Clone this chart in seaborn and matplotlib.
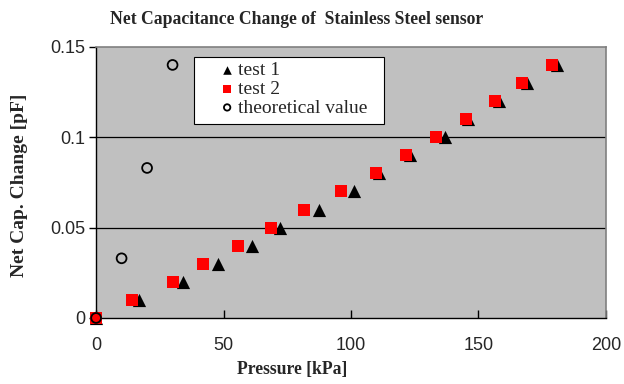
import matplotlib
matplotlib.use("Agg")
import matplotlib.pyplot as plt
from matplotlib.patches import Rectangle
from matplotlib.ticker import FixedLocator, FuncFormatter
import pandas as pd
import seaborn as sns

## Data
test1_kpa = [0, 17, 34, 48, 61, 72, 87.5, 101, 111, 123, 137, 146, 158, 169, 181]
test1_pf = [0, 0.01, 0.02, 0.03, 0.04, 0.05, 0.06, 0.07, 0.08, 0.09, 0.10, 0.11, 0.12, 0.13, 0.14]
test2_kpa = [0, 14, 30, 42, 55.5, 68.5, 81.5, 96, 110, 121.5, 133.5, 145, 156.5, 167, 179]
test2_pf = [0, 0.01, 0.02, 0.03, 0.04, 0.05, 0.06, 0.07, 0.08, 0.09, 0.10, 0.11, 0.12, 0.13, 0.14]
theory_kpa = [0, 10, 20, 30]
theory_pf = [0, 0.033, 0.083, 0.14]

yticks = [0, 0.05, 0.1, 0.15]
xticks = [0, 50, 100, 150, 200]

df1 = pd.DataFrame({"p": test1_kpa, "c": test1_pf})
df2 = pd.DataFrame({"p": test2_kpa, "c": test2_pf})
df3 = pd.DataFrame({"p": theory_kpa, "c": theory_pf})

sns.set_style("white")
plt.rcParams["font.family"] = ["Liberation Sans", "DejaVu Sans"]
serif = ["Liberation Serif", "DejaVu Serif"]

fig = plt.figure(figsize=(6.24, 3.84), dpi=100)
ax = fig.add_axes([0.154, 0.172, 0.817, 0.706])
ax.set_facecolor("#c0c0c0")

sns.scatterplot(data=df1, x="p", y="c", marker="^", s=90, color="black",
                edgecolor="black", linewidth=0, ax=ax, label="test 1", clip_on=False, zorder=3)
sns.scatterplot(data=df2, x="p", y="c", marker="s", s=75, color="#ff0000",
                edgecolor="#ff0000", linewidth=0, ax=ax, label="test 2", clip_on=False, zorder=4)
sns.scatterplot(data=df3, x="p", y="c", marker="o", s=50, facecolor="none",
                edgecolor="black", linewidth=1.3, ax=ax, label="theoretical value", clip_on=False, zorder=5)

ax.set_xlim(0, 200)
ax.set_ylim(0, 0.15)
ax.xaxis.set_major_locator(FixedLocator(xticks))
ax.yaxis.set_major_locator(FixedLocator(yticks))
ax.yaxis.set_major_formatter(FuncFormatter(lambda v, _: "0" if v == 0 else f"{v:g}"))

for y in yticks[1:3]:
    ax.axhline(y, color="black", linewidth=0.9, zorder=1)

ax.tick_params(axis="x", direction="in", length=6, width=1, labelsize=13, pad=14, color="black", bottom=True)
ax.tick_params(axis="y", direction="out", length=5, width=1, labelsize=13, pad=3, color="black", left=True)

for side in ["left", "bottom"]:
    ax.spines[side].set_color("black")
    ax.spines[side].set_linewidth(1)
for side in ["top", "right"]:
    ax.spines[side].set_color("#808080")
    ax.spines[side].set_linewidth(1.2)

ax.set_xlabel("Pressure [kPa]", fontsize=12.7, fontweight="bold", family=serif)
ax.xaxis.set_label_coords(0.385, -0.16)
ax.set_ylabel("Net Cap. Change [pF]", fontsize=14, fontweight="bold", family=serif)
ax.yaxis.set_label_coords(-0.133, 0.49)
fig.text(0.475, 0.948, "Net Capacitance Change of  Stainless Steel sensor", fontsize=12.7,
         fontweight="bold", family=serif, ha="center", va="center")

## legend box (white, square corners) drawn behind a frameless legend
ax.add_patch(Rectangle((0.192, 0.716), 0.373, 0.247, transform=ax.transAxes,
                       facecolor="white", edgecolor="black", linewidth=0.8, zorder=6, clip_on=False))
leg = ax.legend(loc="upper left", bbox_to_anchor=(0.238, 0.945), frameon=False,
                prop={"family": serif, "size": 14}, borderpad=0, labelspacing=0.05,
                handletextpad=0.05, handlelength=1.0, borderaxespad=0, markerscale=0.65)
leg.set_zorder(7)

fig.savefig("out.png", dpi=100)
